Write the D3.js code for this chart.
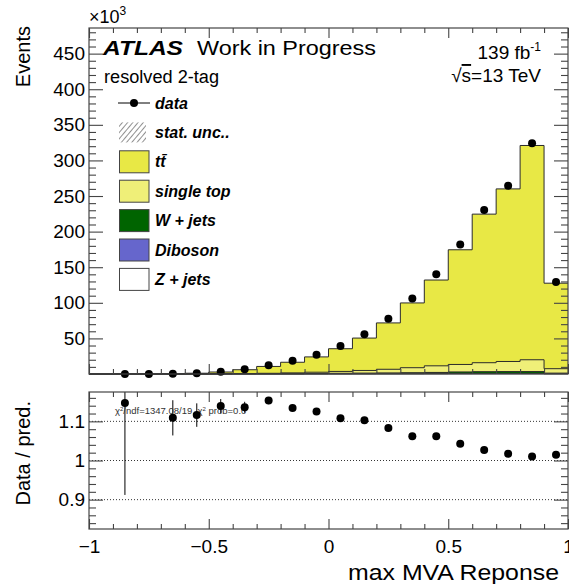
<!DOCTYPE html>
<html>
<head>
<meta charset="utf-8">
<script src="https://cdn.jsdelivr.net/npm/d3@7"></script>
<style>
  body { margin: 0; background: #fff; }
  text { font-family: "Liberation Sans", Arial, Helvetica, sans-serif; fill: #000; }
</style>
</head>
<body>
<svg id="chart" width="569" height="584"></svg>
<script>
// bins of max MVA response (low edges), width 0.1
var binLow = [-1.0, -0.9, -0.8, -0.7, -0.6, -0.5, -0.4, -0.3, -0.2, -0.1,
              0.0, 0.1, 0.2, 0.3, 0.4, 0.5, 0.6, 0.7, 0.8, 0.9];
var binWidth = 0.1;

// predicted events per bin, in units of 10^3
var ttbar     = [0.02, 0.08, 0.15, 0.26, 0.88, 2.4, 5.3, 9.6, 14.9, 21.5, 31.9, 45.5, 65.1, 91.0, 120.5, 161.1, 208.7, 242.4, 301.0, 120.1];
var singleTop = [0, 0.05, 0.05, 0.08, 0.12, 0.25, 0.47, 0.63, 1.1, 1.8, 2.6, 3.7, 5.1, 7.0, 9.3, 10.5, 12.6, 14.2, 16.6, 6.2];
var wJets     = [0, 0, 0, 0.02, 0.05, 0.1, 0.15, 0.25, 0.35, 0.5, 0.7, 0.9, 1.1, 1.3, 1.6, 2.2, 2.5, 2.6, 2.6, 0.8];
var diboson   = [0, 0, 0, 0, 0.01, 0.02, 0.03, 0.04, 0.05, 0.07, 0.1, 0.12, 0.15, 0.18, 0.2, 0.25, 0.25, 0.3, 0.3, 0.15];
var zJets     = [0, 0, 0, 0, 0.02, 0.03, 0.05, 0.08, 0.1, 0.15, 0.2, 0.25, 0.3, 0.35, 0.4, 0.45, 0.5, 0.5, 0.5, 0.3];

// observed events (10^3)
var data = [null, 0.15, 0.1, 0.4, 1.2, 3.2, 6.8, 12.2, 18.7, 27.0, 39.3, 55.7, 77.7, 106, 140, 182, 230.5, 264.5, 324, 129.4];

// data / prediction and its error
var ratio    = [null, 1.147, null, 1.109, 1.116, 1.139, 1.136, 1.153, 1.134, 1.125, 1.108, 1.103, 1.083, 1.062, 1.062, 1.043, 1.027, 1.017, 1.010, 1.015];
var ratioErr = [null, 0.235, null, 0.045, 0.03, 0.018, 0.014, 0.009, 0.006, 0.005, 0.004, 0.003, 0.003, 0.003, 0.003, 0.002, 0.002, 0.002, 0.002, 0.003];

var xMajor = [-1, -0.5, 0, 0.5, 1];
var xMinor = [-0.9, -0.8, -0.7, -0.6, -0.4, -0.3, -0.2, -0.1, 0.1, 0.2, 0.3, 0.4, 0.6, 0.7, 0.8, 0.9];
var yMajor = [50, 100, 150, 200, 250, 300, 350, 400, 450];
var yMinor = [10, 20, 30, 40, 60, 70, 80, 90, 110, 120, 130, 140, 160, 170, 180, 190, 210, 220, 230, 240,
              260, 270, 280, 290, 310, 320, 330, 340, 360, 370, 380, 390, 410, 420, 430, 440, 460, 470, 480];
var rMajor = [0.9, 1, 1.1];
var rMinor = [0.84, 0.86, 0.88, 0.92, 0.94, 0.96, 0.98, 1.02, 1.04, 1.06, 1.08, 1.12, 1.14, 1.16];

var legendItems = [
  { label: "data", type: "data" },
  { label: "stat. unc..", type: "hatch" },
  { label: "tt\u0304", type: "box", color: "#e8e845" },
  { label: "single top", type: "box", color: "#efef78" },
  { label: "W + jets", type: "box", color: "#006400" },
  { label: "Diboson", type: "box", color: "#6666cc" },
  { label: "Z + jets", type: "box", color: "#ffffff" }
];

var svg = d3.select("#chart");

var left = 89, right = 568;
var x = d3.scaleLinear().domain([-1, 1]).range([left, right]);
var y = d3.scaleLinear().domain([0, 486]).range([374, 28]);
var yr = d3.scaleLinear().domain([0.825, 1.175]).range([529, 392]);

var defs = svg.append("defs");
defs.append("pattern")
    .attr("id", "hatch")
    .attr("width", 4).attr("height", 4)
    .attr("patternUnits", "userSpaceOnUse")
    .attr("patternTransform", "rotate(40)")
  .append("line")
    .attr("x1", 0).attr("y1", 0).attr("x2", 0).attr("y2", 4)
    .attr("stroke", "#222").attr("stroke-width", 1);
defs.append("clipPath").attr("id", "ratioClip")
  .append("rect")
    .attr("x", left).attr("y", yr.range()[1])
    .attr("width", right - left).attr("height", yr.range()[0] - yr.range()[1]);

// ---- stacked histogram ----
var rows = binLow.map(function(b, i) {
  return { lo: b, zjets: zJets[i], diboson: diboson[i], wjets: wJets[i], singletop: singleTop[i], ttbar: ttbar[i] };
});
var keys = ["zjets", "diboson", "wjets", "singletop", "ttbar"];
var colors = { zjets: "#ffffff", diboson: "#6666cc", wjets: "#006400", singletop: "#efef78", ttbar: "#e8e845" };
var layers = d3.stack().keys(keys)(rows);

function stepPts(layer) {
  var p = layer.map(function(d) { return [d.data.lo, d[1]]; });
  p.push([binLow[binLow.length - 1] + binWidth, layer[layer.length - 1][1]]);
  return p;
}

var area = d3.area().curve(d3.curveStepAfter)
    .x(function(d) { return x(d[0]); })
    .y0(y(0))
    .y1(function(d) { return y(d[1]); });
var line = d3.line().curve(d3.curveStepAfter)
    .x(function(d) { return x(d[0]); })
    .y(function(d) { return y(d[1]); });

var stackG = svg.append("g");
layers.slice().reverse().forEach(function(layer) {
  var pts = stepPts(layer);
  stackG.append("path")
      .attr("d", area(pts))
      .attr("fill", colors[layer.key]);
  stackG.append("path")
      .attr("d", line(pts))
      .attr("fill", "none")
      .attr("stroke", "#2a2a2a")
      .attr("stroke-width", 1);
});

// data points
svg.append("g").selectAll("circle")
  .data(binLow.map(function(b, i) { return { c: b + binWidth / 2, v: data[i] }; })
              .filter(function(d) { return d.v !== null; }))
  .enter().append("circle")
    .attr("cx", function(d) { return x(d.c); })
    .attr("cy", function(d) { return y(d.v); })
    .attr("r", 4)
    .attr("fill", "#000");

// ---- ratio panel ----
var grid = svg.append("g");
rMajor.forEach(function(v) {
  grid.append("line")
      .attr("x1", left).attr("x2", right)
      .attr("y1", yr(v)).attr("y2", yr(v))
      .attr("stroke", "#000").attr("stroke-width", 0.8)
      .attr("stroke-dasharray", "1,2");
});

var ratioPts = binLow.map(function(b, i) { return { c: b + binWidth / 2, v: ratio[i], e: ratioErr[i] }; })
                     .filter(function(d) { return d.v !== null; });
var rg = svg.append("g").attr("clip-path", "url(#ratioClip)");
rg.selectAll("line.err").data(ratioPts).enter().append("line")
    .attr("class", "err")
    .attr("x1", function(d) { return x(d.c); })
    .attr("x2", function(d) { return x(d.c); })
    .attr("y1", function(d) { return yr(d.v - d.e); })
    .attr("y2", function(d) { return yr(d.v + d.e); })
    .attr("stroke", "#000").attr("stroke-width", 1);

svg.append("text")
    .attr("x", 115).attr("y", 414)
    .attr("font-size", 9.5).style("fill", "#333")
    .html("χ<tspan dy='-3' font-size='6'>2</tspan><tspan dy='3'>/ndf=1347.08/19, χ</tspan><tspan dy='-3' font-size='6'>2</tspan><tspan dy='3'> prob=0.0</tspan>");

svg.append("g").selectAll("circle").data(ratioPts).enter().append("circle")
    .attr("cx", function(d) { return x(d.c); })
    .attr("cy", function(d) { return yr(d.v); })
    .attr("r", 4)
    .attr("fill", "#000");

// ---- axes and frames ----
var frameColor = "#444";
function frame(top, bottom) {
  svg.append("rect")
      .attr("x", left).attr("y", top)
      .attr("width", right - left).attr("height", bottom - top)
      .attr("fill", "none").attr("stroke", frameColor).attr("stroke-width", 1.2);
}

function styleAxis(g) {
  g.select(".domain").remove();
  g.selectAll(".tick line").attr("stroke", frameColor).attr("stroke-width", 1.1);
  g.selectAll(".tick text").attr("font-size", 19).attr("font-family", "Liberation Sans, Arial, sans-serif").style("fill", "#000");
}

function xTicks(top, bottom, labels) {
  var b1 = svg.append("g").attr("transform", "translate(0," + bottom + ")")
      .call(d3.axisBottom(x).tickValues(xMajor).tickSize(-10).tickPadding(labels ? 24 : 0)
        .tickFormat(labels ? function(d) { return d === 0 ? "0" : d3.format("")(d).replace("-", "\u2212"); } : ""));
  styleAxis(b1);
  if (labels) b1.selectAll(".tick text").attr("dy", "0");
  styleAxis(svg.append("g").attr("transform", "translate(0," + bottom + ")")
      .call(d3.axisBottom(x).tickValues(xMinor).tickSize(-5).tickFormat("")));
  styleAxis(svg.append("g").attr("transform", "translate(0," + top + ")")
      .call(d3.axisTop(x).tickValues(xMajor).tickSize(-10).tickFormat("")));
  styleAxis(svg.append("g").attr("transform", "translate(0," + top + ")")
      .call(d3.axisTop(x).tickValues(xMinor).tickSize(-5).tickFormat("")));
}

function yTicks(scale, major, minor, fmt) {
  var l = svg.append("g").attr("transform", "translate(" + left + ",0)")
      .call(d3.axisLeft(scale).tickValues(major).tickSize(-14).tickPadding(4).tickFormat(fmt));
  styleAxis(l);
  styleAxis(svg.append("g").attr("transform", "translate(" + left + ",0)")
      .call(d3.axisLeft(scale).tickValues(minor).tickSize(-7).tickFormat("")));
  styleAxis(svg.append("g").attr("transform", "translate(" + right + ",0)")
      .call(d3.axisRight(scale).tickValues(major).tickSize(-14).tickFormat("")));
  styleAxis(svg.append("g").attr("transform", "translate(" + right + ",0)")
      .call(d3.axisRight(scale).tickValues(minor).tickSize(-7).tickFormat("")));
}

xTicks(28, 374, false);
yTicks(y, yMajor, yMinor, d3.format("d"));
frame(28, 374);

xTicks(392, 529, true);
yTicks(yr, rMajor, rMinor, function(d) { return d === 1 ? "1" : d3.format(".1f")(d); });
frame(392, 529);

// ---- titles ----
svg.append("text")
    .attr("x", 89).attr("y", 23).attr("font-size", 18)
    .html("×10<tspan dy='-8' font-size='12'>3</tspan>");

svg.append("text")
    .attr("transform", "translate(29.5,26) rotate(-90)")
    .attr("text-anchor", "end").attr("font-size", 20)
    .text("Events");

svg.append("text")
    .attr("transform", "translate(29.5,401) rotate(-90)")
    .attr("text-anchor", "end").attr("font-size", 20)
    .text("Data / pred.");

svg.append("text")
    .attr("x", 559).attr("y", 580).attr("text-anchor", "end")
    .attr("font-size", 22).attr("textLength", 211).attr("lengthAdjust", "spacingAndGlyphs")
    .text("max MVA Reponse");

svg.append("text")
    .attr("x", 103).attr("y", 55).attr("font-size", 20)
    .attr("font-weight", "bold").attr("font-style", "italic")
    .attr("textLength", 80).attr("lengthAdjust", "spacingAndGlyphs")
    .text("ATLAS");
svg.append("text")
    .attr("x", 197).attr("y", 55).attr("font-size", 20)
    .attr("textLength", 179).attr("lengthAdjust", "spacingAndGlyphs")
    .text("Work in Progress");
svg.append("text")
    .attr("x", 104).attr("y", 83).attr("font-size", 18)
    .attr("textLength", 115).attr("lengthAdjust", "spacingAndGlyphs")
    .text("resolved 2-tag");

svg.append("text")
    .attr("x", 541).attr("y", 59).attr("text-anchor", "end").attr("font-size", 19)
    .html("139 fb<tspan dy='-8' font-size='12'>-1</tspan>");
var rs = svg.append("text")
    .attr("x", 541).attr("y", 82).attr("text-anchor", "end").attr("font-size", 19);
rs.append("tspan").text("√");
rs.append("tspan").style("text-decoration", "overline").text("s");
rs.append("tspan").text("=13 TeV");

// ---- legend ----
var lg = svg.append("g");
legendItems.forEach(function(item, i) {
  var cy = 103 + i * 29.4;
  if (item.type === "data") {
    lg.append("line").attr("x1", 118).attr("x2", 150).attr("y1", cy).attr("y2", cy)
        .attr("stroke", "#000").attr("stroke-width", 1);
    lg.append("circle").attr("cx", 134).attr("cy", cy).attr("r", 4).attr("fill", "#000");
  } else if (item.type === "hatch") {
    lg.append("rect").attr("x", 119).attr("y", cy - 10).attr("width", 27).attr("height", 20)
        .attr("fill", "url(#hatch)");
  } else {
    lg.append("rect").attr("x", 119.5).attr("y", cy - 11).attr("width", 29.5).attr("height", 22)
        .attr("fill", item.color).attr("stroke", "#444").attr("stroke-width", 1);
  }
  lg.append("text")
      .attr("x", 155).attr("y", cy + 5.5)
      .attr("font-size", 16).attr("font-weight", "bold").attr("font-style", "italic")
      .text(item.label);
});
</script>
</body>
</html>
